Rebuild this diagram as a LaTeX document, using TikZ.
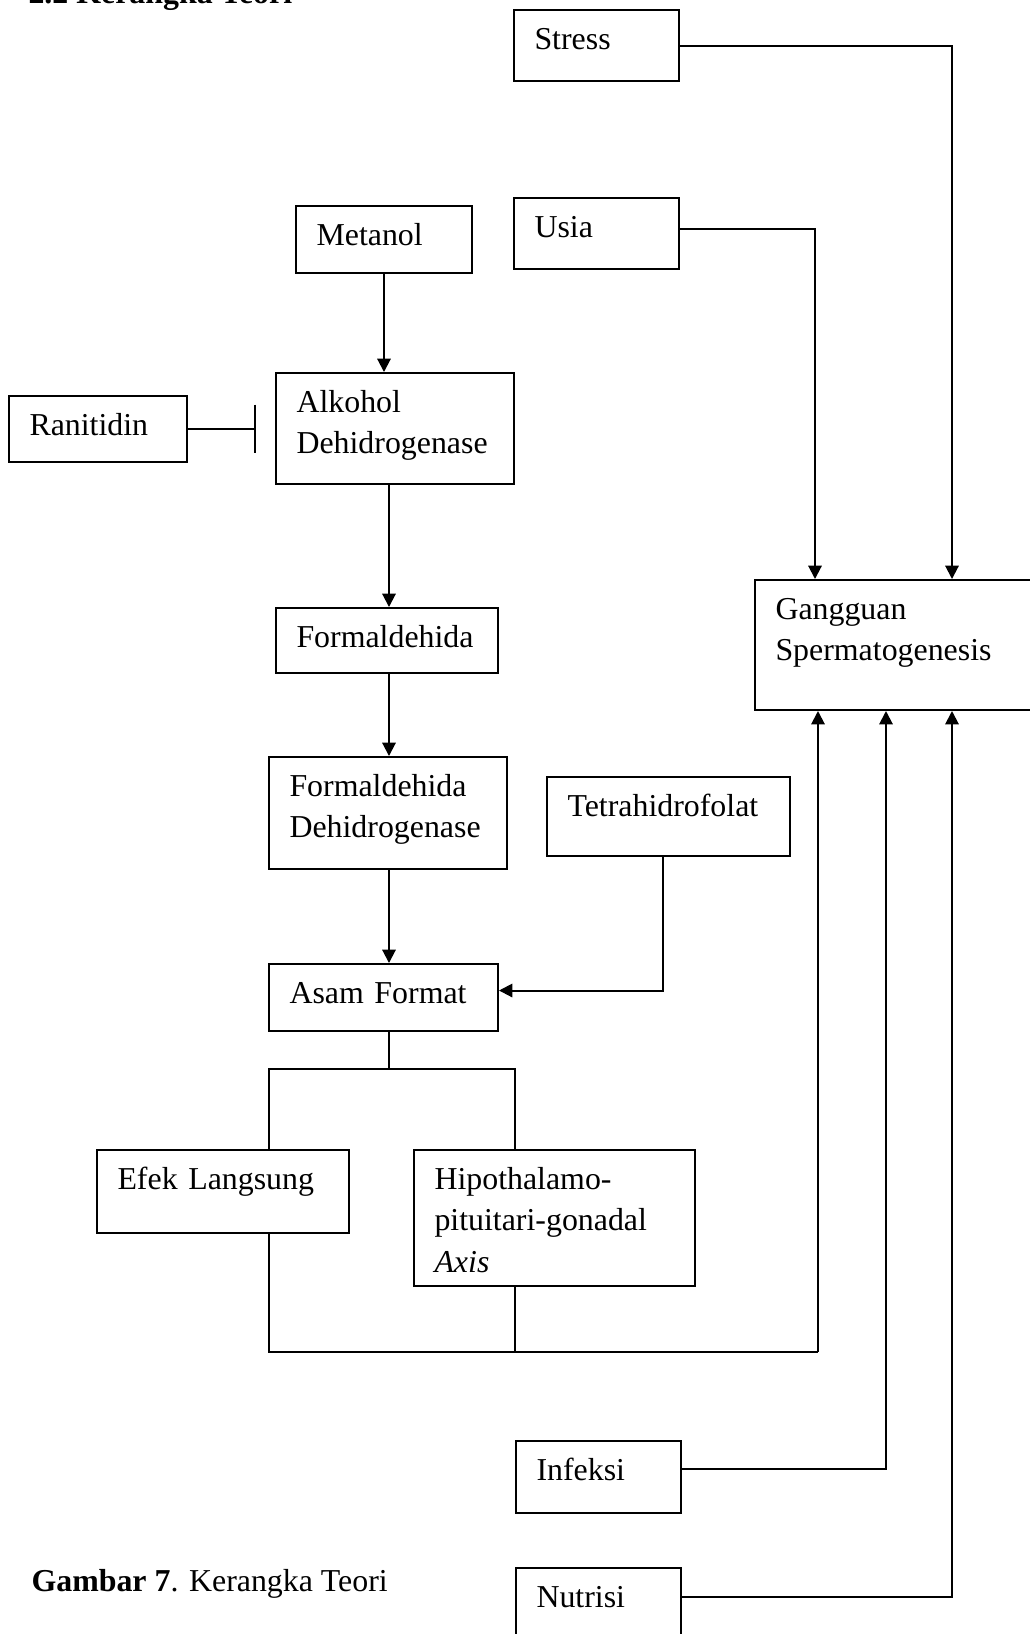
\documentclass[tikz,border=0pt]{standalone}
\usepackage{fontspec}
\setmainfont{Liberation Serif}
\usetikzlibrary{arrows.meta,calc,fit}

\begin{document}
\begin{tikzpicture}[x=0.3765pt, y=-0.3765pt, font=\fontsize{12}{15.8}\selectfont]
    \tikzstyle{kotak} = [rectangle, draw=black, line width=0.75pt, inner sep=0pt]
    \tikzstyle{isi} = [anchor=base west, inner sep=0pt, text width=9cm, align=left, xshift=7.9pt, yshift=-15.06pt]
    \tikzstyle{panah} = [line width=0.75pt, -{Triangle[length=5pt, width=5pt]}]
    \tikzstyle{garis} = [line width=0.75pt]
    \tikzstyle{hambat} = [line width=0.75pt, -{Bar[width=18.4pt]}]

    \useasboundingbox (0,0) rectangle (1029,1634);

    \node (judul) [anchor=base west, inner sep=0pt, font=\fontsize{12}{15.8}\selectfont\bfseries] at (28,3) {2.2 Kerangka Teori};

    \node (stress) [kotak, fit={(514,10) (679,81)}, label={[isi]north west:Stress}] {};
    \node (usia) [kotak, fit={(514,198) (679,269)}, label={[isi]north west:Usia}] {};
    \node (metanol) [kotak, fit={(296,206) (472,273)}, label={[isi]north west:Metanol}] {};
    \node (alkohol) [kotak, fit={(276,373) (514,484)}, label={[isi]north west:Alkohol\\Dehidrogenase}] {};
    \node (ranitidin) [kotak, fit={(9,396) (187,462)}, label={[isi]north west:Ranitidin}] {};
    \node (formaldehida) [kotak, fit={(276,608) (498,673)}, label={[isi]north west:Formaldehida}] {};
    \node (fdh) [kotak, fit={(269,757) (507,869)}, label={[isi]north west:Formaldehida\\Dehidrogenase}] {};
    \node (tetra) [kotak, fit={(547,777) (790,856)}, label={[isi]north west:Tetrahidrofolat}] {};
    \node (asam) [kotak, fit={(269,964) (498,1031)}, label={[isi]north west:Asam Format}] {};
    \node (efek) [kotak, fit={(97,1150) (349,1233)}, label={[isi]north west:Efek Langsung}] {};
    \node (hipo) [kotak, fit={(414,1150) (695,1286)}, label={[isi]north west:Hipothalamo-\\pituitari-gonadal\\\textit{Axis}}] {};
    \node (gangguan) [kotak, fit={(755,580) (1040,710)}, label={[isi]north west:Gangguan\\Spermatogenesis}] {};
    \node (infeksi) [kotak, fit={(516,1441) (681,1513)}, label={[isi]north west:Infeksi}] {};
    \node (nutrisi) [kotak, fit={(516,1568) (681,1642)}, label={[isi]north west:Nutrisi}] {};

    \node (keterangan) [anchor=base west, inner sep=0pt] at (31,1591) {\textbf{Gambar 7}. Kerangka Teori};

    % jalur metanol
    \coordinate (sumbu) at (389,0);
    \draw [panah] (metanol.south) -- (metanol.south |- alkohol.north);
    \draw [hambat] (ranitidin.east) -- ($(ranitidin.east -| alkohol.west)+(-19,0)$);
    \draw [panah] (sumbu |- alkohol.south) -- (sumbu |- formaldehida.north);
    \draw [panah] (sumbu |- formaldehida.south) -- (sumbu |- fdh.north);
    \draw [panah] (sumbu |- fdh.south) -- (sumbu |- asam.north);
    \draw [panah] ($(tetra.south)+(-5.5,0)$) |- ($(asam.east)+(0,-7)$);

    % cabang asam format
    \coordinate (c1) at (269,1069);
    \coordinate (c2) at (515,1069);
    \draw [garis] (sumbu |- asam.south) -- (sumbu |- c1);
    \draw [garis] (c1 |- efek.north) -- (c1) -- (c2) -- (c2 |- hipo.north);
    \coordinate (d1) at (269,1352);
    \coordinate (d2) at (515,1352);
    \coordinate (d3) at (818,1352);
    \draw [garis] (d1 |- efek.south) -- (d1) -- (d3);
    \draw [garis] (d2 |- hipo.south) -- (d2);
    \draw [panah] (d3) -- (d3 |- gangguan.south);

    % faktor lain
    \draw [panah] (stress.east) -| ($(gangguan.north west)+(198,0)$);
    \draw [panah] ($(usia.east)+(0,-5)$) -| ($(gangguan.north west)+(61,0)$);
    \draw [panah] ($(infeksi.east)+(0,-8)$) -| ($(gangguan.south west)+(132,0)$);
    \draw [panah] ($(nutrisi.east)+(0,-8)$) -| ($(gangguan.south west)+(198,0)$);
\end{tikzpicture}
\end{document}
